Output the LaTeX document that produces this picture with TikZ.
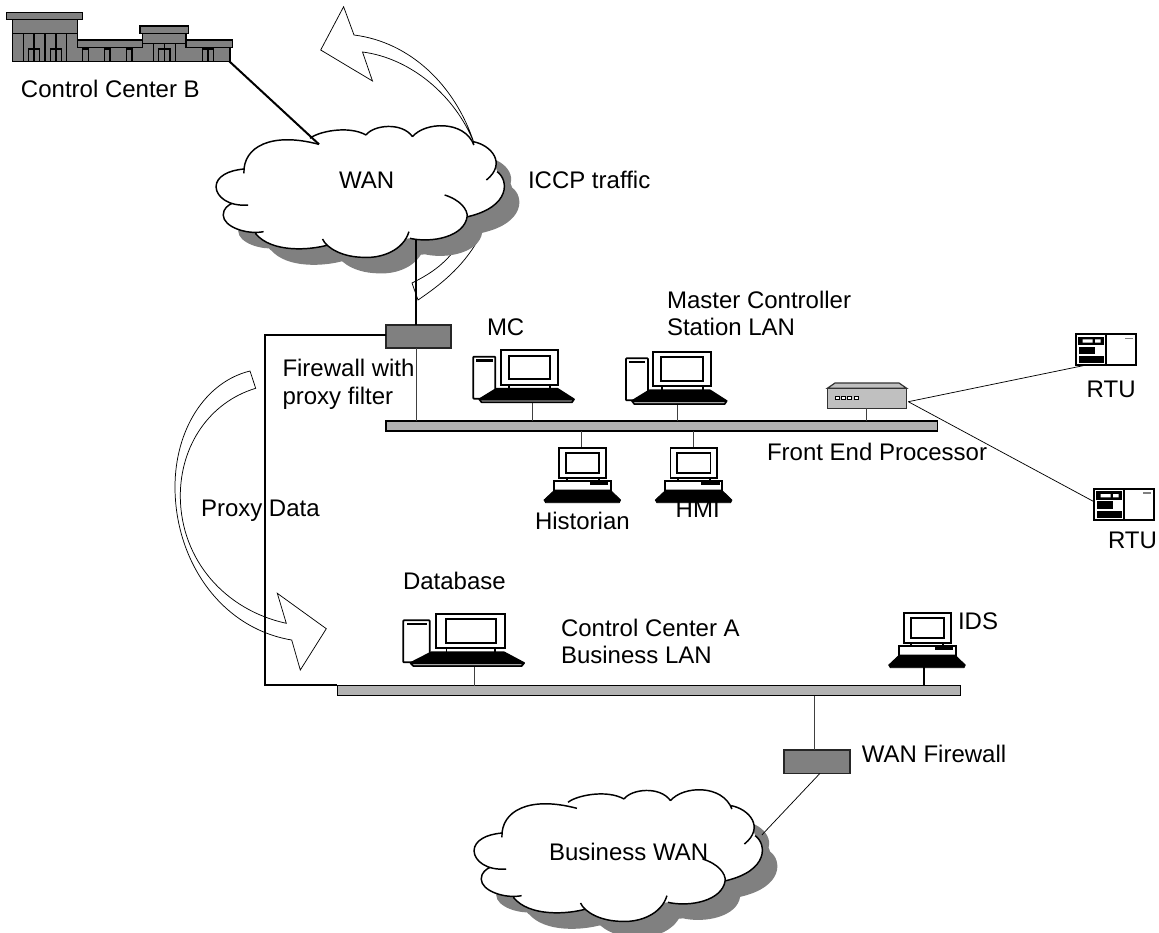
\documentclass[tikz,border=0pt]{standalone}
\usepackage{fontspec}
\setmainfont{Liberation Sans}
\definecolor{shadegray}{HTML}{808080}
\definecolor{barfill}{HTML}{B2B2B2}
\definecolor{boxfill}{HTML}{C0C0C0}
\def\cloudcore{(868,415) -- (684,510) -- (650,612) -- (715,702) -- (918,737) -- (1148,715) -- (1310,650) -- (1392,515) -- (1380,480) -- (1327,430) -- (1155,410) -- (1025,405) -- cycle}
\def\cloudarcs{(893,433) .. controls (760,395) and (680,440) .. (683,520)
 (685,507) .. controls (640,510) and (605,530) .. (605,560) .. controls (605,590) and (640,620) .. (695,615)
 (650,610) .. controls (640,615) and (625,625) .. (625,645) .. controls (625,680) and (690,705) .. (738,695)
 (715,700) .. controls (760,760) and (870,750) .. (918,735)
 (903,717) .. controls (915,745) and (960,772) .. (1020,772) .. controls (1070,775) and (1130,750) .. (1145,695)
 (1148,715) .. controls (1210,730) and (1300,710) .. (1308,650) .. controls (1310,630) and (1290,600) .. (1245,585)
 (1310,650) .. controls (1430,620) and (1425,540) .. (1392,515)
 (1362,540) .. controls (1420,490) and (1375,435) .. (1325,425)
 (1327,435) .. controls (1300,360) and (1190,365) .. (1155,410)
 (1155,410) .. controls (1125,365) and (1045,375) .. (1025,405)
 (1025,405) .. controls (975,375) and (890,395) .. (868,415)}
\newcommand{\cloudat}[2]{%
 \begin{scope}[shift={(#1,#2)},x=0.267857pt,y=-0.25pt]
  \begin{scope}[shift={(42,48)}]
   \fill[shadegray] \cloudcore \cloudarcs;
  \end{scope}
  \fill[white] \cloudcore \cloudarcs;
  \draw[cloudline] \cloudarcs;
 \end{scope}}
\newcommand{\bigpc}[3]{%
 \begin{scope}[shift={(#1,#2)},x=#3*0.25pt,y=-0.25pt]
  \draw[pcline,fill=white,rounded corners=0.5pt] (0,19) rectangle (66,145);
  \fill (8,26) rectangle (58,34);
  \draw[pcline,fill=white] (82,0) rectangle (255,103);
  \draw[pcline] (106,16) rectangle (231,87);
  \draw[pcline] (108,103) -- (108,115) (230,103) -- (230,115);
  \draw[pcline,fill=black,line join=round] (70,115) -- (252,115) -- (302,147) -- (296,156) -- (25,156) -- (18,147) -- cycle;
  \fill[white] (24,151) -- (296,151) -- (294,153) -- (27,153) -- cycle;
 \end{scope}}
\newcommand{\smallpc}[2]{%
 \begin{scope}[shift={(#1,#2)},x=0.25pt,y=-0.25pt]
  \draw[pcline,fill=white] (0,0) rectangle (140,90);
  \draw[pcline] (20,15) rectangle (120,75);
  \draw[pcline] (22,90) -- (22,99) (118,90) -- (118,99);
  \draw[pcline,fill=white] (-16,99) rectangle (155,129);
  \fill (92,102) rectangle (147,113);
  \fill[line join=round,draw=black,line width=0.6pt] (-14,127) -- (153,127) -- (184,157) -- (180,165) -- (-41,165) -- (-46,157) -- cycle;
 \end{scope}}
\newcommand{\rtuicon}[2]{%
 \begin{scope}[shift={(#1,#2)},x=0.25pt,y=-0.25pt]
  \draw[line width=1.6pt,fill=white] (0,0) rectangle (180,92);
  \draw[line width=1.6pt] (89,0) -- (89,92);
  \fill (7,7) rectangle (84,32);
  \fill[white] (20,15) rectangle (50,25) (57,15) rectangle (74,25);
  \fill (9,37) rectangle (57,59);
  \fill (9,65) rectangle (84,87);
  \fill[shadegray] (147,10) rectangle (170,15);
 \end{scope}}
\tikzset{
 cloudline/.style={line width=1.1pt},
 pcline/.style={line width=1.3pt},
 wire/.style={line width=0.75pt,draw=black!75},
 fineline/.style={line width=0.55pt},
 heavy/.style={line width=1.5pt},
 busbar/.style={draw=black,line width=1.1pt,fill=barfill,inner sep=0pt,outer sep=0pt,minimum height=7.5pt},
 fwbox/.style={draw=black!85,line width=1pt,fill=shadegray,inner sep=0pt,outer sep=0pt},
 lab/.style={anchor=base west,inner sep=0pt,outer sep=0pt,font=\fontsize{18}{18}\selectfont},
 arrowshape/.style={line width=0.55pt,line join=miter},
}
\begin{document}
\begin{tikzpicture}[x=0.75pt,y=-0.75pt]
\useasboundingbox (0,0) rectangle (1159,932);
% coordinates of the machines
\coordinate (mc) at (532.3,402);
\coordinate (master) at (677.7,403);
\coordinate (hist) at (581.7,447.7);
\coordinate (hmi) at (693,447.7);
\coordinate (db) at (474.3,666);
\coordinate (ids) at (924.3,667);
\coordinate (cloudA) at (319,144.3);
\coordinate (cloudAb) at (416,240);
\coordinate (cloudB) at (761.8,835);
\coordinate (bldg) at (229.3,61.3);
\coordinate (fepport) at (908.3,401.7);
\coordinate (rtua) at (1085,365.3);
\coordinate (rtub) at (1094,501.7);
\coordinate (corner) at (265,335);
\coordinate (corner2) at (265,685);
% bars and boxes
\node[busbar,minimum width=413.8pt] (busA) at (661.85,426) {};
\node[busbar,minimum width=467.5pt] (busB) at (649,690.5) {};
\node[fwbox,minimum width=48.75pt,minimum height=17.25pt] (fwA) at (418.5,336.5) {};
\node[fwbox,minimum width=49.5pt,minimum height=17.5pt] (fwB) at (817,761.7) {};
\node[draw=black!80,line width=0.9pt,fill=boxfill,inner sep=0pt,outer sep=0pt,minimum width=59.5pt,minimum height=15pt] (fep) at (867,398.3) {};
% small ICCP arrow behind the cloud
\draw[arrowshape,fill=white] (478,240) .. controls (462,268) and (440,285) .. (418,300) -- (412,283) .. controls (428,275) and (445,265) .. (458,245);
% clouds
\cloudat{0}{0}
\cloudat{258}{664}
% large ICCP arrow
\draw[arrowshape] (474,143) .. controls (455,85) and (410,42) .. (354,35) -- (343.6,6.7) -- (320.7,50) -- (372.5,81) -- (362.5,52) .. controls (410,58) and (455,95) .. (474,143);
% proxy arrow
\draw[arrowshape] (250,371) .. controls (205,382) and (175,430) .. (175,487) .. controls (175,560) and (220,628) .. (291.7,640) -- (300.3,670) -- (326.3,628.7) -- (277.3,593.3) -- (286.3,623.3) .. controls (225,610) and (181,560) .. (180.3,497) .. controls (180,445) and (210,402) .. (255.7,388.3) -- cycle;
% connectors
\draw[heavy] (bldg) -- (cloudA);
\draw[heavy] (cloudAb) -- (cloudAb |- fwA.north);
\draw[wire] (cloudAb |- fwA.south) -- (cloudAb |- busA.north);
\draw[heavy,line join=miter] (fwA.west |- corner) -- (corner) -- (corner2) -- (busB.west |- corner2);
\draw[wire] (mc) -- (mc |- busA.north);
\draw[wire] (master) -- (master |- busA.north);
\draw[wire] (hist) -- (hist |- busA.south);
\draw[wire] (hmi) -- (hmi |- busA.south);
\draw[wire] (db) -- (db |- busB.north);
\draw[heavy] (ids) -- (ids |- busB.north);
\draw[wire] (814.3,696) coordinate (bfw) -- (bfw |- fwB.north);
\draw[fineline] (820,773.3) coordinate (bfwb) -- (cloudB);
\draw[wire] (866,408.3) coordinate (fepb) -- (fepb |- busA.north);
\draw[fineline] (fepport) -- (rtua);
\draw[fineline] (fepport) -- (rtub);
% front end processor top
\draw[draw=black!80,line width=0.9pt,fill=boxfill] (fep.north west) -- (835,383) -- (899,383) -- (fep.north east) -- cycle;
\foreach \dx in {835,841.3,847.6,853.9}
 \draw[line width=0.5pt,fill=white] (\dx,396) rectangle ++(4,3.6);
% computers
\bigpc{473.3}{350.3}{1}
\bigpc{626}{352}{1}
\bigpc{403.3}{614}{1.2}
\smallpc{559.3}{447.7}
\smallpc{670.6}{447.7}
\smallpc{904}{612.7}
% RTUs
\rtuicon{1076}{334.3}
\rtuicon{1094}{489}
% building
\begin{scope}[x=0.25pt,y=-0.25pt,line width=0.8pt]
 \draw[fill=shadegray] (37,58) -- (232,58) -- (232,120) -- (428,120) -- (428,100) -- (558,100) -- (558,120) -- (690,120) -- (690,184) -- (37,184) -- cycle;
 \draw[fill=shadegray] (20,38) rectangle (248,58);
 \draw[fill=shadegray] (420,78) rectangle (566,100);
 \draw[fill=shadegray] (232,120) rectangle (428,142);
 \draw[fill=shadegray] (558,120) rectangle (697,142);
 \draw (37,100) -- (232,100) (428,130) -- (558,130);
 \foreach \vx in {70,102,135,168,200} \draw (\vx,100) -- (\vx,184);
 \foreach \vx in {460,493,526} \draw (\vx,130) -- (\vx,184);
 \draw (624,142) -- (624,184);
 \draw (85,184) -- (85,147) -- (118,147) -- (118,184);
 \draw (152,184) -- (152,147) -- (185,147) -- (185,184);
 \draw (476,184) -- (476,147) -- (510,147) -- (510,184);
 \draw (607,184) -- (607,147) -- (640,147) -- (640,184);
 \foreach \vx in {248,313,379} \draw (\vx,184) -- (\vx,147) -- (\vx+17,147) -- (\vx+17,184);
 \draw[line width=1.1pt] (37,184) -- (690,184);
\end{scope}
% labels
\node[lab] (t1) at (21,97) {Control Center B};
\node[lab] (t2) at (339,188) {WAN};
\node[lab] (t3) at (528,188) {ICCP traffic};
\node[lab] (t4) at (667,308) {Master Controller};
\node[lab] (t5) at (667,335) {Station LAN};
\node[lab] (t6) at (487,335) {MC};
\node[lab] (t7) at (282.5,376) {Firewall with};
\node[lab] (t8) at (282.5,404) {proxy filter};
\node[lab] (t9) at (767,460) {Front End Processor};
\node[lab] (t10) at (1086.7,397) {RTU};
\node[lab] (t11) at (1108,548) {RTU};
\node[lab] (t12) at (535,529) {Historian};
\node[lab] (t13) at (675.7,517) {HMI};
\node[lab] (t14) at (201,516.7) {Proxy Data};
\node[lab] (t15) at (403,589) {Database};
\node[lab] (t16) at (561,636) {Control Center A};
\node[lab] (t17) at (561,663) {Business LAN};
\node[lab] (t18) at (958,629) {IDS};
\node[lab] (t19) at (861.8,762.7) {WAN Firewall};
\node[lab] (t20) at (549,860) {Business WAN};
\end{tikzpicture}
\end{document}
